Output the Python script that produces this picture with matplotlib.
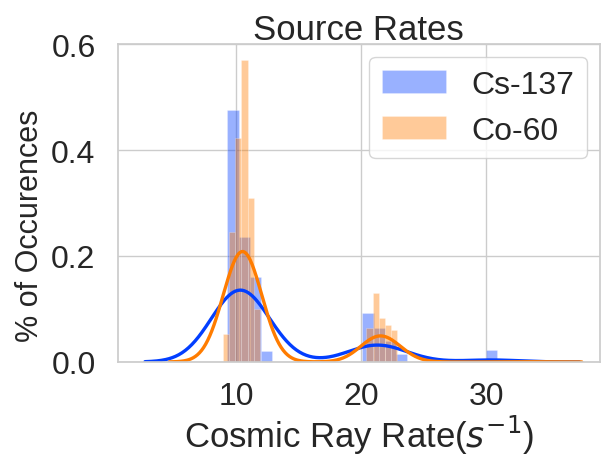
import numpy as np
import matplotlib
matplotlib.use("Agg")
import matplotlib.pyplot as plt
import seaborn as sns

# ---- data ----
series_names = ["Cs-137", "Co-60"]

# Cs-137 histogram (bin centres, density heights)
cs_centers = [9.73, 10.63, 11.53, 12.43, 20.53, 21.43, 22.33, 23.23, 30.43]
cs_heights = [0.475, 0.235, 0.160, 0.020, 0.092, 0.065, 0.040, 0.015, 0.023]

# Co-60 histogram (bin centres, density heights)
co_centers = [9.15, 9.65, 10.15, 10.65, 11.15, 11.65, 20.65, 21.15, 21.65, 22.15, 22.65, 33.15]
co_heights = [0.053, 0.245, 0.423, 0.570, 0.309, 0.100, 0.065, 0.131, 0.082, 0.070, 0.060, 0.003]

x_ticks = [10, 20, 30]
y_ticks = [0.0, 0.2, 0.4, 0.6]

# ---- style ----
sns.set_theme(style="whitegrid")
plt.rcParams["font.family"] = ["Liberation Sans", "DejaVu Sans"]
palette = sns.color_palette("bright")
c_blue, c_orange = palette[0], palette[1]

cs_width = 0.9
co_width = 0.5
cs_bw = 2.2
co_bw = 1.42

def kde(centers, weights, width, bw, n=400):
    c = np.asarray(centers, float)
    w = np.asarray(weights, float) * width
    lo = c.min() - width / 2 - 3 * bw
    hi = c.max() + width / 2 + 3 * bw
    xs = np.linspace(lo, hi, n)
    ys = (w[None, :] * np.exp(-0.5 * ((xs[:, None] - c[None, :]) / bw) ** 2)).sum(1)
    ys /= (bw * np.sqrt(2 * np.pi)) * w.sum()
    return xs, ys

fig = plt.figure(figsize=(6.04, 4.6), dpi=100)
ax = fig.add_axes([0.195, 0.211, 0.798, 0.691])

ax.bar(cs_centers, cs_heights, width=cs_width, color=c_blue, alpha=0.4,
       edgecolor="white", linewidth=0.4, label=series_names[0])
ax.bar(co_centers, co_heights, width=co_width, color=c_orange, alpha=0.4,
       edgecolor="white", linewidth=0.4, label=series_names[1])

xs, ys = kde(cs_centers, cs_heights, cs_width, cs_bw)
ax.plot(xs, ys, color=c_blue, lw=2.4)
xs, ys = kde(co_centers, co_heights, co_width, co_bw)
ax.plot(xs, ys, color=c_orange, lw=2.4)

ax.set_xlim(0.5, 39.1)
ax.set_ylim(0, 0.6)
ax.set_xticks(x_ticks)
ax.set_yticks(y_ticks)
ax.set_yticklabels([f"{v:.1f}" for v in y_ticks])
ax.tick_params(axis="y", labelsize=23, colors="#262626", pad=10)
ax.tick_params(axis="x", labelsize=23, colors="#262626", pad=8)
ax.set_xlabel("Cosmic Ray Rate($s^{-1}$)", fontsize=25, color="#262626", labelpad=1)
ax.set_ylabel("% of Occurences", fontsize=22, color="#262626")
ax.yaxis.set_label_coords(-0.152, 0.43)
ax.set_title("Source Rates", fontsize=25, color="#262626", pad=4)
ax.legend(loc="upper right", fontsize=23, frameon=True, borderaxespad=0.4)

fig.savefig("out.png", dpi=100)
